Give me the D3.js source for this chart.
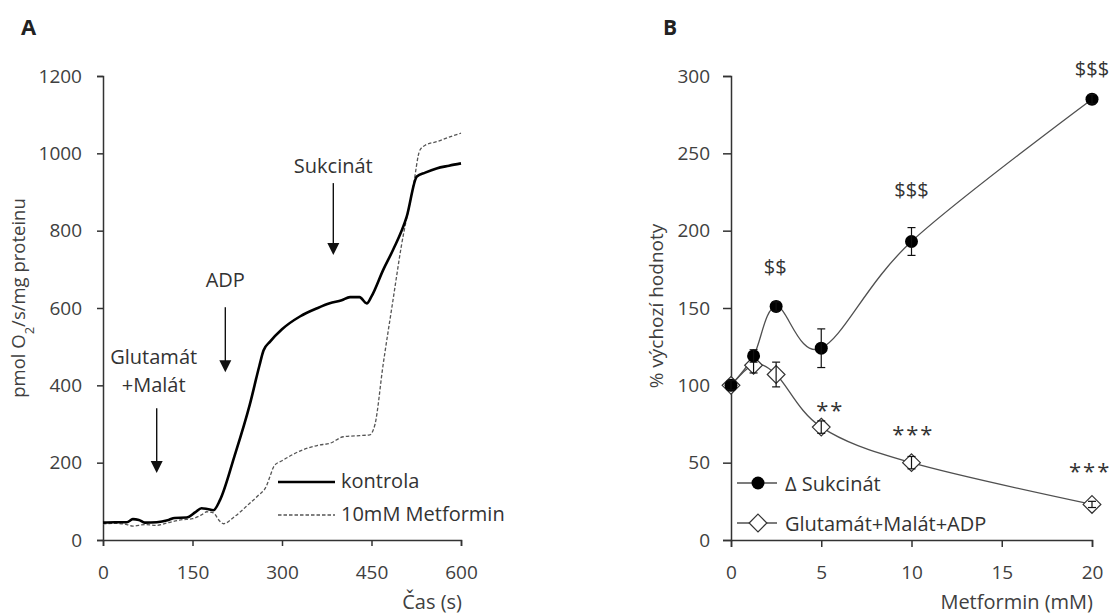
<!DOCTYPE html>
<html>
<head>
<meta charset="utf-8">
<script src="https://cdn.jsdelivr.net/npm/d3@7"></script>
<style>
  body { margin: 0; background: #fff; }
  svg { font-family: "Open Sans", sans-serif; }
  .axis path, .axis line { stroke: #333; stroke-width: 1.5px; }
  .axis text { fill: #404040; font-size: 19px; font-family: "Open Sans", sans-serif; }
</style>
</head>
<body>
<div id="chart"></div>
<script>
// Panel A: oxygen consumption traces
const kontrolaT = [0, 20, 40, 50, 60, 70, 90, 110, 120, 140, 155, 165, 175, 185, 196, 220, 246, 262, 269, 280, 300, 330, 360, 380, 400, 414, 430, 442, 450, 470, 486, 509, 526, 540, 559, 580, 600];
const kontrolaV = [45, 46, 46, 54, 52, 45, 46, 52, 57, 58, 72, 82, 80, 77, 103, 215, 350, 450, 490, 513, 545, 578, 600, 612, 620, 628, 628, 612, 630, 700, 750, 836, 940, 950, 961, 968, 974];
const metforminT = [0, 20, 40, 50, 70, 90, 110, 130, 150, 165, 174, 185, 195, 202, 220, 246, 260, 274, 280, 287, 300, 330, 360, 380, 403, 430, 447, 456, 469, 486, 500, 520, 531, 540, 559, 580, 600];
const metforminV = [42, 43, 40, 36, 40, 38, 45, 52, 55, 65, 73, 70, 50, 42, 60, 95, 115, 140, 165, 192, 205, 230, 245, 250, 267, 270, 272, 300, 448, 620, 760, 915, 1008, 1021, 1030, 1042, 1052];
const ticksA_x = [0, 150, 300, 450, 600];
const ticksA_y = [0, 200, 400, 600, 800, 1000, 1200];

// annotation arrows: label lines, x (s), label baseline, arrow top, arrow tip (pmol)
const arrowLabels = [['Glutamát', '+Malát'], ['ADP'], ['Sukcinát']];
const arrowT = [90, 205, 386];
const arrowLabelV = [455, 654, 950];
const arrowTopV = [341, 602, 923];
const arrowTipV = [173, 434, 737];

// Panel B: percent of baseline vs metformin concentration
const concB = [0, 1.25, 2.5, 5, 10, 20];
const sukcinat = [100, 119, 151, 124, 193, 285];
const sukcinatErr = [3, 4, 3, 12.5, 9, 3];
const glutamat = [100, 113, 107, 73, 50, 23];
const glutamatErr = [2, 5, 8, 4, 4, 2];
const ticksB_x = [0, 5, 10, 15, 20];
const ticksB_y = [0, 50, 100, 150, 200, 250, 300];

// significance marks: text, x (mM), y (%)
const sigText = ['$$', '$$$', '$$$', '**', '***', '***'];
const sigX = [2.45, 10, 20, 5.5, 10.1, 19.9];
const sigY = [172, 222, 300, 79, 63.5, 39.5];

const svg = d3.select('#chart').append('svg')
  .attr('width', 1113).attr('height', 615);

// ---------- Panel A ----------
const xA = d3.scaleLinear().domain([0, 600]).range([103, 461]);
const yA = d3.scaleLinear().domain([0, 1200]).range([540, 76]);

svg.append('g').attr('class', 'axis')
  .attr('transform', 'translate(0,540)')
  .call(d3.axisBottom(xA).tickValues(ticksA_x).tickSizeOuter(0).tickSize(6).tickPadding(20));
svg.append('g').attr('class', 'axis')
  .attr('transform', 'translate(103,0)')
  .call(d3.axisLeft(yA).tickValues(ticksA_y).tickFormat(d3.format('d'))
    .tickSizeOuter(0).tickSize(6).tickPadding(15));

svg.append('text').attr('x', 21).attr('y', 35)
  .attr('font-size', 22).attr('font-weight', 'bold').attr('fill', '#222').text('A');

svg.append('text')
  .attr('transform', 'translate(25,298) rotate(-90)')
  .attr('text-anchor', 'middle').attr('font-size', 18.5).attr('fill', '#404040')
  .html('pmol O<tspan baseline-shift="sub" font-size="13">2</tspan>/s/mg proteinu');

svg.append('text').attr('x', 462).attr('y', 609)
  .attr('text-anchor', 'end').attr('font-size', 20).attr('fill', '#404040').text('Čas (s)');

const lineA = (ts, vs) => d3.line()
  .x((d, i) => xA(ts[i])).y(d => yA(d))
  .curve(d3.curveMonotoneX)(vs);

svg.append('path').attr('d', lineA(metforminT, metforminV))
  .attr('fill', 'none').attr('stroke', '#555').attr('stroke-width', 1.3)
  .attr('stroke-dasharray', '3.5,2');
svg.append('path').attr('d', lineA(kontrolaT, kontrolaV))
  .attr('fill', 'none').attr('stroke', '#000').attr('stroke-width', 2.6);

// arrows
arrowT.forEach((t, i) => {
  const x = xA(t);
  const tip = yA(arrowTipV[i]);
  svg.append('line').attr('x1', x).attr('x2', x)
    .attr('y1', yA(arrowTopV[i])).attr('y2', tip - 8)
    .attr('stroke', '#111').attr('stroke-width', 1.4);
  svg.append('path')
    .attr('d', `M${x - 6},${tip - 12}L${x + 6},${tip - 12}L${x},${tip}Z`)
    .attr('fill', '#111');
  arrowLabels[i].forEach((s, j) => {
    svg.append('text').attr('x', x - (i === 0 ? 3 : 0))
      .attr('y', yA(arrowLabelV[i]) + j * 28)
      .attr('text-anchor', 'middle').attr('font-size', 20).attr('fill', '#333').text(s);
  });
});

// legend A
svg.append('line').attr('x1', 278).attr('x2', 335).attr('y1', 482).attr('y2', 482)
  .attr('stroke', '#000').attr('stroke-width', 2.6);
svg.append('text').attr('x', 341).attr('y', 488).attr('font-size', 20).attr('fill', '#333').text('kontrola');
svg.append('line').attr('x1', 278).attr('x2', 335).attr('y1', 515).attr('y2', 515)
  .attr('stroke', '#555').attr('stroke-width', 1.3).attr('stroke-dasharray', '3.5,2');
svg.append('text').attr('x', 341).attr('y', 521).attr('font-size', 20).attr('fill', '#333').text('10mM Metformin');

// ---------- Panel B ----------
const xB = d3.scaleLinear().domain([0, 20]).range([731, 1092]);
const yB = d3.scaleLinear().domain([0, 300]).range([540, 76]);

svg.append('g').attr('class', 'axis')
  .attr('transform', 'translate(0,540)')
  .call(d3.axisBottom(xB).tickValues(ticksB_x).tickSizeOuter(0).tickSize(7).tickPadding(19));
svg.append('g').attr('class', 'axis')
  .attr('transform', 'translate(731,0)')
  .call(d3.axisLeft(yB).tickValues(ticksB_y).tickSizeOuter(0).tickSize(8).tickPadding(13));

svg.append('text').attr('x', 663).attr('y', 35)
  .attr('font-size', 21).attr('font-weight', 'bold').attr('fill', '#222').text('B');

svg.append('text')
  .attr('transform', 'translate(663,306) rotate(-90)')
  .attr('text-anchor', 'middle').attr('font-size', 19).attr('fill', '#404040')
  .text('% výchozí hodnoty');

svg.append('text').attr('x', 1093).attr('y', 609)
  .attr('text-anchor', 'end').attr('font-size', 20).attr('fill', '#404040').text('Metformin (mM)');

const lineB = d3.line()
  .x((d, i) => xB(concB[i])).y(d => yB(d))
  .curve(d3.curveCatmullRom.alpha(0));

svg.append('path').attr('d', lineB(glutamat))
  .attr('fill', 'none').attr('stroke', '#505050').attr('stroke-width', 1.3);
svg.append('path').attr('d', lineB(sukcinat))
  .attr('fill', 'none').attr('stroke', '#505050').attr('stroke-width', 1.3);

const errBars = (vals, errs) => {
  vals.forEach((v, i) => {
    const x = xB(concB[i]);
    const y0 = yB(v - errs[i]), y1 = yB(v + errs[i]);
    svg.append('line').attr('x1', x).attr('x2', x).attr('y1', y0).attr('y2', y1)
      .attr('stroke', '#111').attr('stroke-width', 1.2);
    [y0, y1].forEach(y => svg.append('line')
      .attr('x1', x - 4).attr('x2', x + 4).attr('y1', y).attr('y2', y)
      .attr('stroke', '#111').attr('stroke-width', 1.2));
  });
};

const diamond = d3.symbol().type(d3.symbolDiamond2).size(200);

glutamat.forEach((v, i) => {
  svg.append('path').attr('d', diamond)
    .attr('transform', `translate(${xB(concB[i])},${yB(v)})`)
    .attr('fill', '#fff').attr('stroke', '#333').attr('stroke-width', 1.2);
});
errBars(glutamat, glutamatErr);

sukcinat.forEach((v, i) => {
  svg.append('circle').attr('cx', xB(concB[i])).attr('cy', yB(v)).attr('r', 6.5)
    .attr('fill', '#000');
});
errBars(sukcinat, sukcinatErr);

sigText.forEach((s, i) => {
  const star = s[0] === '*';
  svg.append('text').attr('x', xB(sigX[i])).attr('y', yB(sigY[i]))
    .attr('text-anchor', 'middle')
    .attr('font-size', star ? 22 : 20)
    .attr('letter-spacing', star ? 2 : 0)
    .attr('fill', '#333').text(s);
});

// legend B
svg.append('line').attr('x1', 737).attr('x2', 777).attr('y1', 483).attr('y2', 483)
  .attr('stroke', '#505050').attr('stroke-width', 1.3);
svg.append('circle').attr('cx', 758).attr('cy', 483).attr('r', 6.5).attr('fill', '#000');
svg.append('text').attr('x', 785).attr('y', 491).attr('font-size', 20).attr('fill', '#333').text('Δ Sukcinát');
svg.append('line').attr('x1', 737).attr('x2', 777).attr('y1', 523).attr('y2', 523)
  .attr('stroke', '#505050').attr('stroke-width', 1.3);
svg.append('path').attr('d', diamond).attr('transform', 'translate(758,523)')
  .attr('fill', '#fff').attr('stroke', '#333').attr('stroke-width', 1.2);
svg.append('text').attr('x', 785).attr('y', 531).attr('font-size', 20).attr('fill', '#333').text('Glutamát+Malát+ADP');
</script>
</body>
</html>
